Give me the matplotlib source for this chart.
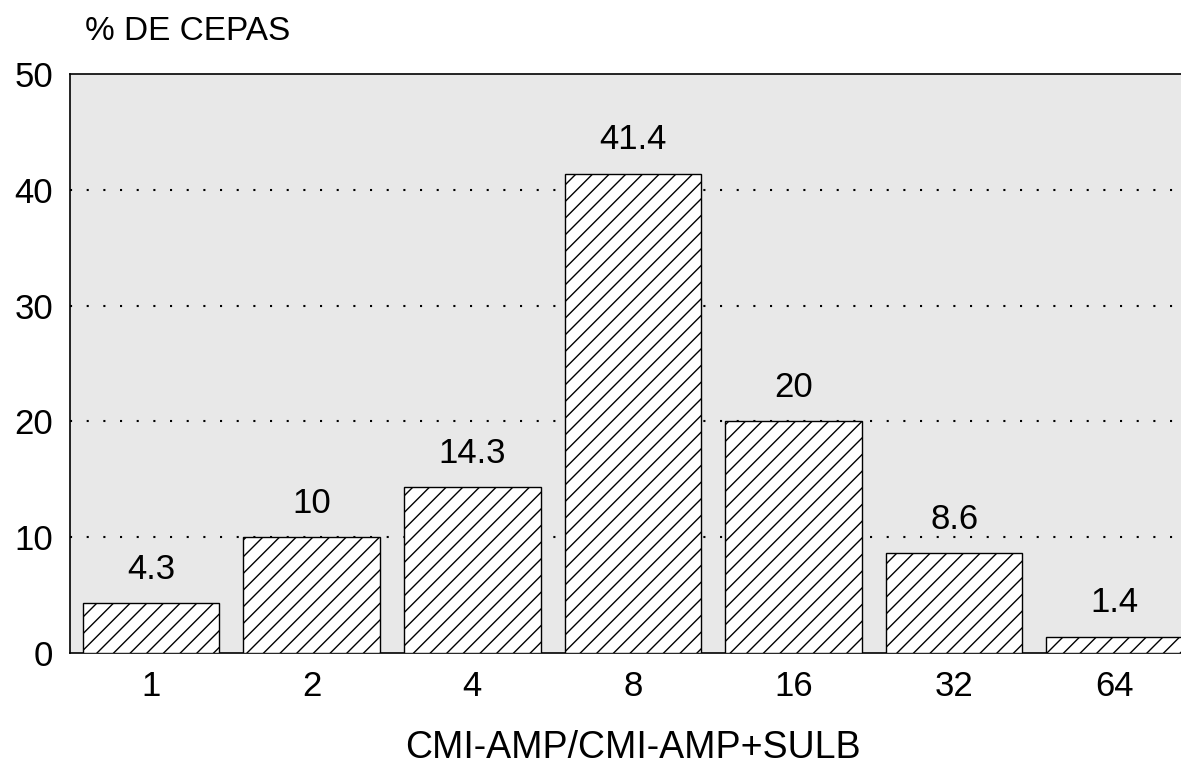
import numpy as np
import matplotlib
matplotlib.use("Agg")
import matplotlib.pyplot as plt

categories = ["1", "2", "4", "8", "16", "32", "64"]
values = [4.3, 10, 14.3, 41.4, 20, 8.6, 1.4]
yticks = [0, 10, 20, 30, 40, 50]

plt.rcParams['font.family'] = ['Liberation Sans', 'DejaVu Sans']
plt.rcParams['hatch.linewidth'] = 1.0

fig = plt.figure(figsize=(11.81, 7.67), dpi=100)
# right edge of the plot runs off the page, as in the scan
ax = fig.add_axes([70 / 1181, 1 - 653 / 767, 1125 / 1181, (653 - 74) / 767])
ax.set_facecolor('#e8e8e8')

x = np.arange(len(categories))
bars = ax.bar(x, values, width=0.85, color='white', edgecolor='black',
              linewidth=1.0, hatch='//', zorder=3)

for xi, v in zip(x, values):
    ax.text(xi, v + 1.5, f"{v:g}", ha='center', va='bottom', fontsize=25)

ax.set_xlim(-0.505, 6.5)
ax.set_ylim(0, 50)
ax.set_yticks(yticks)
ax.set_xticks(x)
ax.set_xticklabels(categories)
ax.tick_params(axis='both', length=0, labelsize=25)
ax.tick_params(axis='y', pad=12)
ax.tick_params(axis='x', pad=12)

for y in yticks[1:-1]:
    ax.axhline(y, color='black', linestyle=(0, (1, 7)), linewidth=1.5, zorder=1)

for side in ['left', 'top', 'bottom']:
    ax.spines[side].set_linewidth(1.2)
ax.spines['right'].set_visible(False)

ax.set_xlabel("CMI-AMP/CMI-AMP+SULB", fontsize=27, labelpad=20)
fig.text(85 / 1181, 1 - 32 / 767, "% DE CEPAS", fontsize=24, ha='left', va='center')

fig.savefig("out.png", dpi=100)
